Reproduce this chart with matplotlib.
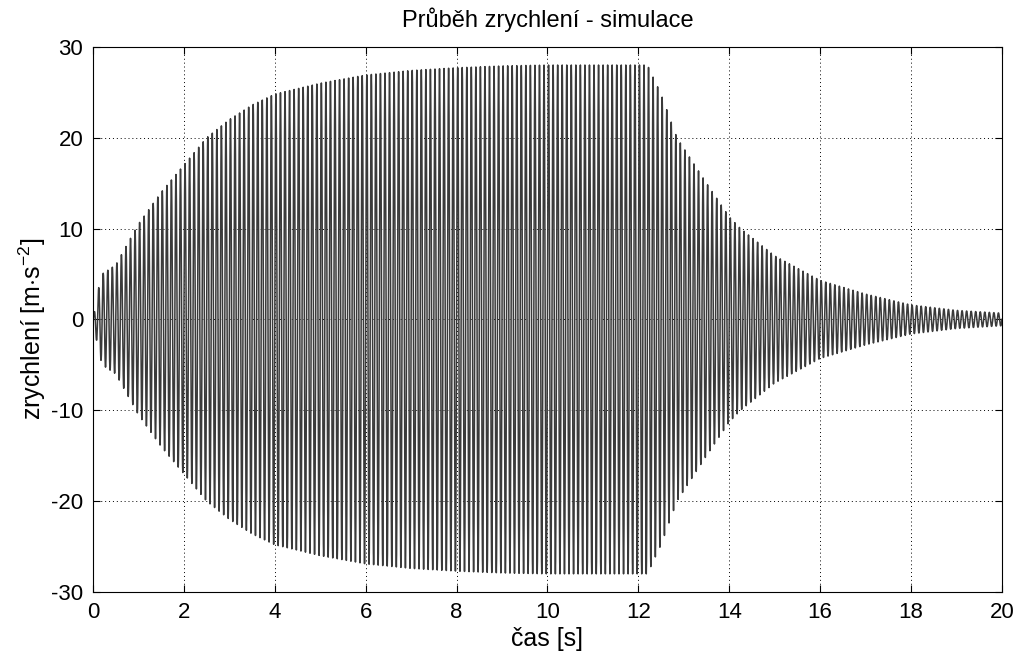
import numpy as np
import matplotlib
matplotlib.use("Agg")
import matplotlib.pyplot as plt

# Envelope of the acceleration signal (time [s], amplitude [m/s^2])
env_t = [0.0, 0.1, 0.2, 0.5, 1.0, 1.5, 2.0, 2.5, 3.0, 3.5, 4.0, 5.0, 6.0, 7.0,
         8.0, 9.0, 10.0, 11.0, 12.2, 12.5, 12.85, 13.5, 14.0, 14.25, 15.0, 16.0,
         17.0, 18.0, 19.0, 20.0]
env_a = [0.0, 3.0, 5.0, 6.0, 10.5, 14.0, 17.0, 20.0, 22.0, 23.6, 24.8, 26.0, 26.9, 27.4,
         27.7, 27.9, 28.0, 28.0, 28.0, 24.8, 20.0, 15.0, 11.3, 10.0, 7.0, 4.3,
         2.8, 1.6, 1.0, 0.7]
carrier_hz = 10.0  # oscillation frequency read from stroke spacing

title = "Průběh zrychlení - simulace"
xlabel = "čas [s]"
ylabel = r"zrychlení [m$\cdot$s$^{-2}$]"
xticks = list(range(0, 21, 2))
yticks = list(range(-30, 31, 10))

plt.rcParams['font.family'] = ['Liberation Sans', 'DejaVu Sans']
plt.rcParams['mathtext.fontset'] = 'custom'
plt.rcParams['mathtext.rm'] = 'Liberation Sans'
plt.rcParams['mathtext.it'] = 'Liberation Sans'
plt.rcParams['axes.unicode_minus'] = False

t = np.arange(0, 20.0005, 0.005)
amp = np.interp(t, env_t, env_a)
y = amp * np.sin(2 * np.pi * carrier_hz * t)

fig = plt.figure(figsize=(10.2, 6.6), dpi=100)
ax = fig.add_axes([0.0912, 0.103, 0.891, 0.826])
ax.plot(t, y, color='#3a3a3a', lw=1.1)
ax.set_xlim(0, 20)
ax.set_ylim(-30, 30)
ax.set_xticks(xticks)
ax.set_yticks(yticks)
ax.grid(True, linestyle=(0, (1, 3)), color='black', lw=0.7)
ax.tick_params(direction='in', top=True, right=True, labelsize=16, length=5, pad=7)
for s in ax.spines.values():
    s.set_linewidth(0.8)
ax.set_title(title, fontsize=17, pad=14)
ax.set_xlabel(xlabel, fontsize=18, labelpad=3)
ax.set_ylabel(ylabel, fontsize=18)
ax.yaxis.set_label_coords(-0.05, 0.483)
fig.savefig("out.png", dpi=100)
